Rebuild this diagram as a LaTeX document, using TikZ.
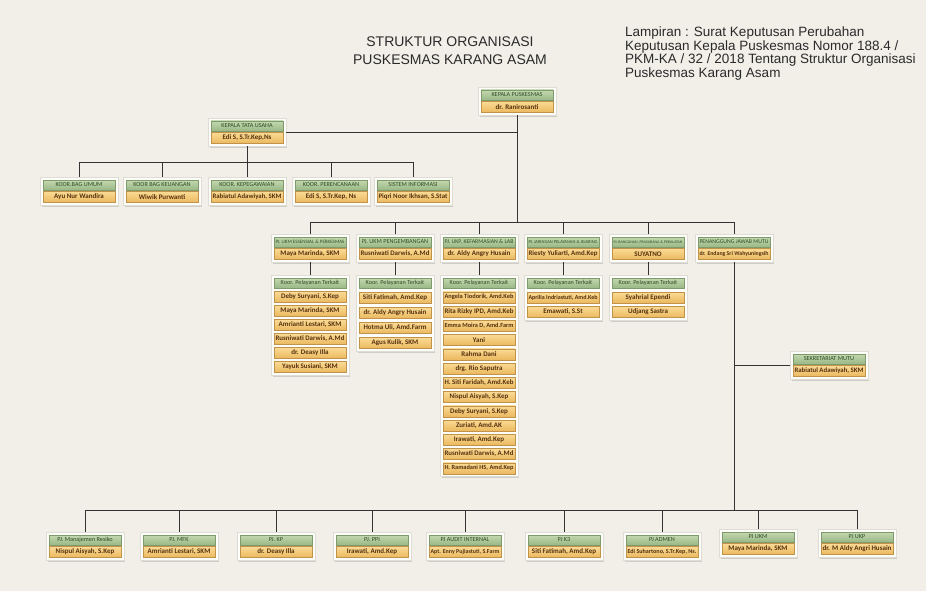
\documentclass[tikz,border=0pt]{standalone}
\usepackage{fontspec}
\setmainfont{Liberation Sans}
\newfontfamily\carlito{Carlito}
\usepackage{graphicx}
\usetikzlibrary{fit,backgrounds,shadows}

\definecolor{paper}{HTML}{F1EFE8}
\definecolor{panelfill}{HTML}{FDFDFA}
\definecolor{panelline}{HTML}{DEDCD4}
\definecolor{hdrtop}{HTML}{C3D8B0}
\definecolor{hdrbot}{HTML}{9AB885}
\definecolor{hdrline}{HTML}{7F9A6C}
\definecolor{hdrtext}{HTML}{2F4A26}
\definecolor{nmtop}{HTML}{FADB95}
\definecolor{nmbot}{HTML}{EBB85E}
\definecolor{nmline}{HTML}{C0924A}
\definecolor{nmtext}{HTML}{55300E}
\definecolor{linecol}{HTML}{333333}
\definecolor{ink}{HTML}{2A2A2A}

\newcommand{\hdrfont}{\carlito\fontsize{6.2}{7}\selectfont}
\newcommand{\nmfont}{\carlito\bfseries\fontsize{7}{8}\selectfont}
\newsavebox{\fitbox}
\newcommand{\fitw}[1]{\sbox{\fitbox}{#1}\ifdim\wd\fitbox>69pt\resizebox{69pt}{!}{\usebox{\fitbox}}\else\usebox{\fitbox}\fi}

\newcommand{\orgcard}[4]{%
  \node[hdr] (#1h) at (#2) {\fitw{#3}};
  \node[nm, below of=#1h] (#1n) {\fitw{#4}};
  \begin{pgfonlayer}{background}
    \node[panel, fit=(#1h)(#1n)] (#1) {};
  \end{pgfonlayer}}

\newcommand{\orglist}[5]{%
  \node[hdr] (#1h) at (#2,283) {\fitw{Koor. Pelayanan Terkait}};
  \foreach \who [count=\k] in {#5} {\node[nm] (#1-\k) at (#2,{283+\k*#3}) {\fitw{\who}};}
  \begin{pgfonlayer}{background}
    \node[panel, fit=(#1h)(#1-#4)] (#1) {};
  \end{pgfonlayer}}

\begin{document}
\begin{tikzpicture}[x=1pt, y=-1pt, node distance=12pt,
  hdr/.style={shape=rectangle, draw=hdrline, top color=hdrtop, bottom color=hdrbot, minimum width=72pt, minimum height=10pt, inner sep=0pt, text=hdrtext, font=\hdrfont},
  nm/.style={shape=rectangle, draw=nmline, top color=nmtop, bottom color=nmbot, minimum width=72pt, minimum height=11pt, inner sep=0pt, text=nmtext, font=\nmfont},
  panel/.style={shape=rectangle, draw=panelline, fill=panelfill, inner sep=2.5pt, drop shadow={shadow xshift=1.5pt, shadow yshift=-1.5pt, opacity=0.3}},
  link/.style={draw=linecol, line width=1pt}]
\begin{pgfonlayer}{background}
\fill[paper] (0,0) rectangle (926,591);
\end{pgfonlayer}
\useasboundingbox (0,0) rectangle (926,591);

\node[font=\fontsize{14}{18}\selectfont, text=ink, align=center] (title) at (450,51) {STRUKTUR ORGANISASI\\PUSKESMAS KARANG ASAM};
\node[font=\fontsize{13.5}{13.4}\selectfont, text=ink, align=left, anchor=north west, inner sep=0pt] (lampiran) at (625,27) {Lampiran : Surat Keputusan Perubahan\\Keputusan Kepala Puskesmas Nomor 188.4 /\\PKM-KA / 32 / 2018 Tentang Struktur Organisasi\\Puskesmas Karang Asam};

\orgcard{kp}{517,95}{KEPALA PUSKESMAS}{dr. Ranirosanti}
\orgcard{tu}{247,126}{KEPALA TATA USAHA}{Edi S, S.Tr.Kep,Ns}

\orgcard{k1}{79,185}{KOOR.BAG UMUM}{Ayu Nur Wandira}
\orgcard{k2}{162,185}{KOOR BAG KEUANGAN}{Wiwik Purwanti}
\orgcard{k3}{247,185}{KOOR. KEPEGAWAIAN}{Rabiatul Adawiyah, SKM}
\orgcard{k4}{331,185}{KOOR. PERENCANAAN}{Edi S, S.Tr.Kep, Ns}
\orgcard{k5}{413,185}{SISTEM INFORMASI}{Piqri Noor Ikhsan, S.Stat}

\orgcard{c1}{310,242}{PJ. UKM ESSENSIAL \& PERKESMAS}{Maya Marinda, SKM}
\orgcard{c2}{395,242}{PJ. UKM PENGEMBANGAN}{Rusniwati Darwis, A.Md}
\orgcard{c3}{479,242}{PJ. UKP, KEFARMASIAN \& LAB}{dr. Aldy Angry Husain}
\orgcard{c4}{563,242}{PJ. JARINGAN PELAYANAN \& JEJARING}{Riesty Yuliarti, Amd.Kep}
\orgcard{c5}{648,242}{PJ. BANGUNAN, PRASARANA \& PERALATAN}{SUYATNO}
\orgcard{c6}{734,242}{PENANGGUNG JAWAB MUTU}{dr. Endang Sri Wahyuningsih}

\orglist{l1}{310}{14}{6}{{Deby Suryani, S.Kep},{Maya Marinda, SKM},{Amrianti Lestari, SKM},{Rusniwati Darwis, A.Md},{dr. Deasy Illa},{Yayuk Susiani, SKM}}
\orglist{l2}{395}{15}{4}{{Siti Fatimah, Amd.Kep},{dr. Aldy Angry Husain},{Hotma Uli, Amd.Farm},{Agus Kulik, SKM}}
\orglist{l3}{479}{14.25}{13}{{Angela Tiodorik, Amd.Keb},{Rita Rizky IPD, Amd.Keb},{Emma Moira D, Amd.Farm},{Yani},{Rahma Dani},{drg. Rio Saputra},{H. Siti Faridah, Amd.Keb},{Nispul Aisyah, S.Kep},{Deby Suryani, S.Kep},{Zuriati, Amd.AK},{Irawati, Amd.Kep},{Rusniwati Darwis, A.Md},{H. Ramadani HS, Amd.Kep}}
\orglist{l4}{563}{14.5}{2}{{Aprilia Indriastuti, Amd.Keb},{Emawati, S.St}}
\orglist{l5}{648}{14.5}{2}{{Syahrial Ependi},{Udjang Sastra}}

\orgcard{sek}{829,359}{SEKRETARIAT MUTU}{Rabiatul Adawiyah, SKM}

\orgcard{b1}{85,540}{PJ. Manajemen Resiko}{Nispul Aisyah, S.Kep}
\orgcard{b2}{179,540}{PJ. MFK}{Amrianti Lestari, SKM}
\orgcard{b3}{276,540}{PJ. KP}{dr. Deasy Illa}
\orgcard{b4}{372,540}{PJ. PPI}{Irawati, Amd.Kep}
\orgcard{b5}{465,540}{PJ AUDIT INTERNAL}{Apt. Enny Pujiastuti, S.Farm}
\orgcard{b6}{564,540}{PJ K3}{Siti Fatimah, Amd.Kep}
\orgcard{b7}{662,540}{PJ ADMEN}{Edi Suhartono, S.Tr.Kep, Ns.}
\orgcard{b8}{758,537}{PJ UKM}{Maya Marinda, SKM}
\orgcard{b9}{857,537}{PJ UKP}{dr. M Aldy Angri Husain}

\coordinate (tuBus) at (247,162);
\coordinate (colBus) at (517,222);
\coordinate (botBus) at (734,510);

\draw[link] (kp.south) -- (colBus);
\draw[link] (tu.east) -- (tu.east -| kp);
\draw[link] (tu.south) -- (tuBus);
\draw[link] (k1.north) -- (k1.north |- tuBus) -- (k5.north |- tuBus) -- (k5.north);
\foreach \k in {k2,k3,k4} \draw[link] (\k.north) -- (\k.north |- tuBus);

\draw[link] (c1.north) -- (c1.north |- colBus) -- (c6.north |- colBus) -- (c6.north);
\foreach \c in {c2,c3,c4,c5} \draw[link] (\c.north) -- (\c.north |- colBus);
\draw[link] (c1.south) -- (l1.north);
\draw[link] (c2.south) -- (l2.north);
\draw[link] (c3.south) -- (l3.north);
\draw[link] (c4.south) -- (l4.north);
\draw[link] (c5.south) -- (l5.north);

\draw[link] (c6.south) -- (botBus);
\draw[link] (sek.west) -- (sek.west -| c6);
\draw[link] (b1.north) -- (b1.north |- botBus) -- (b9.north |- botBus) -- (b9.north);
\foreach \b in {b2,b3,b4,b5,b6,b7,b8} \draw[link] (\b.north) -- (\b.north |- botBus);
\end{tikzpicture}
\end{document}
